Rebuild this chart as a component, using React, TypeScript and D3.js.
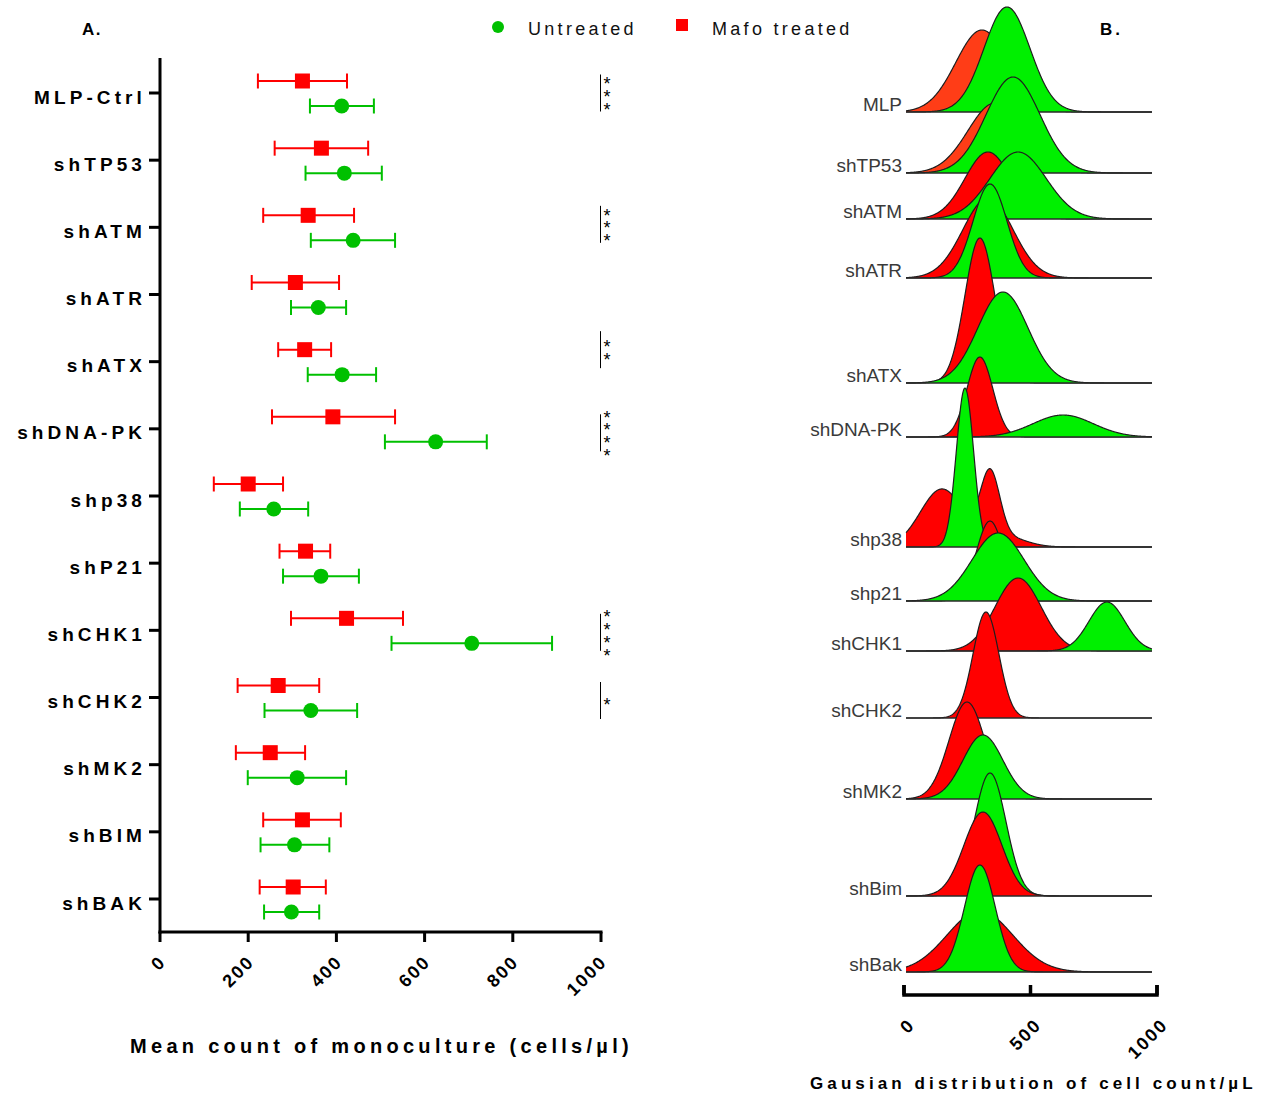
import React from "react";
import * as d3 from "d3";

// ---------- Panel A data ----------
const categoriesA = ["MLP-Ctrl", "shTP53", "shATM", "shATR", "shATX", "shDNA-PK", "shp38", "shP21", "shCHK1", "shCHK2", "shMK2", "shBIM", "shBAK"];
const untreatedMean = [412, 418, 438, 359, 413, 625, 258, 365, 707, 342, 311, 305, 298];
const untreatedLow = [340, 330, 342, 297, 335, 510, 181, 279, 525, 237, 199, 228, 236];
const untreatedHigh = [485, 503, 533, 422, 490, 741, 336, 451, 889, 447, 422, 384, 361];
const mafoMean = [323, 366, 336, 307, 328, 392, 200, 330, 423, 268, 250, 323, 302];
const mafoLow = [222, 260, 234, 208, 268, 254, 122, 271, 297, 176, 172, 234, 226];
const mafoHigh = [424, 472, 440, 406, 388, 533, 279, 386, 551, 361, 329, 410, 376];
const significance = ["***", "", "***", "", "**", "****", "", "", "****", "*", "", "", ""];
const xTicksA = [0, 200, 400, 600, 800, 1000];

// ---------- Panel B data (gaussian components: [mean, sd, relative height]) ----------
const ridgeLabels = ["MLP", "shTP53", "shATM", "shATR", "shATX", "shDNA-PK", "shp38", "shp21", "shCHK1", "shCHK2", "shMK2", "shBim", "shBak"];
const mafoRidge: number[][][] = [
  [[308, 103, 0.82]],
  [[360, 107, 0.70]],
  [[332, 91, 0.67]],
  [[332, 99, 0.80]],
  [[300, 59, 1.45]],
  [[300, 51, 0.80]],
  [[150, 85, 0.58], [340, 38, 0.66], [400, 80, 0.10]],
  [[340, 55, 0.80]],
  [[451, 91, 0.73]],
  [[324, 51, 1.06]],
  [[249, 71, 0.97]],
  [[312, 75, 0.84]],
  [[300, 130, 0.61]],
];
const untreatedRidge: number[][][] = [
  [[407, 91, 1.05]],
  [[431, 107, 0.96]],
  [[451, 111, 0.67]],
  [[340, 67, 0.94]],
  [[391, 99, 0.91]],
  [[629, 119, 0.22]],
  [[241, 34, 1.59]],
  [[372, 103, 0.68]],
  [[802, 71, 0.49]],
  [],
  [[312, 79, 0.64]],
  [[340, 63, 1.23]],
  [[300, 61, 1.07]],
];
const xTicksB = [0, 500, 1000];

// ---------- layout / style constants ----------
const ridgeRowY = [112, 173, 219, 278, 383, 437, 547, 601, 651, 718, 799, 896, 972];
const mafoOnTop = [false, false, false, false, false, false, false, false, false, false, false, true, false];
const mafoRidgeColor = ["#ff3d17", "#ff3d17", "#ff0000", "#ff0000", "#ff0000", "#ff0000", "#ff0000", "#ff0000", "#ff0000", "#ff0000", "#ff0000", "#ff0000", "#ff0000"];
const sigShift = [0, -3, -3, 0, -12, 4, 0, 0, 2, 3, 0, 0, 0];

const FONT = "'Liberation Sans', Arial, Helvetica, sans-serif";
const RED = "#ff0000";
const GREEN_A = "#00c000";
const GREEN_B = "#00f000";

function mixture(comps: number[][], v: number) {
  let s = 0;
  for (const [m, sd, h] of comps) s += h * Math.exp(-((v - m) * (v - m)) / (2 * sd * sd));
  return s;
}

export default function App() {
  // Panel A scales
  const xA = d3.scaleLinear().domain([0, 1000]).range([160, 601]);
  const yA = d3.scalePoint<string>().domain(categoriesA).range([93, 899]);

  // Panel B scales
  const xB = d3.scaleLinear().domain([0, 1000]).range([904, 1157]);
  const hB = d3.scaleLinear().domain([0, 1]).range([0, 100]);
  const grid = d3.range(8, 981, 2);

  const makeArea = (comps: number[][], base: number) =>
    d3
      .area<number>()
      .x((v) => xB(v))
      .y0(base)
      .y1((v) => base - hB(mixture(comps, v)))(grid) as string;
  const makeLine = (comps: number[][], base: number) =>
    d3
      .line<number>()
      .x((v) => xB(v))
      .y((v) => base - hB(mixture(comps, v)))(grid) as string;

  const renderCurve = (comps: number[][], base: number, fill: string, key: string) =>
    comps.length === 0 ? null : (
      <g key={key}>
        <path d={makeArea(comps, base)} fill={fill} stroke="none" />
        <path d={makeLine(comps, base)} fill="none" stroke="#1e1e1e" strokeWidth={1.2} strokeLinejoin="round" />
      </g>
    );

  return (
    <svg
      width={1263}
      height={1097}
      style={{ position: "absolute", left: 0, top: 0, background: "#fff" }}
      fontFamily={FONT}
    >
      <rect x={0} y={0} width={1263} height={1097} fill="#fff" />

      {/* Titles / legend */}
      <text x={82} y={35} fontSize={17} fontWeight="bold" letterSpacing={1.5}>A.</text>
      <text x={1100} y={35} fontSize={17} fontWeight="bold" letterSpacing={3}>B.</text>
      <circle cx={498} cy={27} r={6} fill={GREEN_A} />
      <text x={528} y={35} fontSize={18} letterSpacing={3.3} fill="#111">Untreated</text>
      <rect x={676} y={19} width={12} height={12} fill={RED} />
      <text x={712} y={35} fontSize={18} letterSpacing={3.3} fill="#111">Mafo treated</text>

      {/* ---------- Panel A ---------- */}
      <g>
        {/* y axis */}
        <line x1={160} x2={160} y1={58} y2={933.5} stroke="#000" strokeWidth={3} />
        {categoriesA.map((c) => (
          <g key={"yt" + c}>
            <line x1={149} x2={160} y1={yA(c)} y2={yA(c)} stroke="#000" strokeWidth={3} />
            <text x={146} y={(yA(c) as number) + 10.5} fontSize={19} fontWeight="bold" letterSpacing={4.1} textAnchor="end">
              {c}
            </text>
          </g>
        ))}
        {/* x axis */}
        <line x1={158.5} x2={602.5} y1={932} y2={932} stroke="#000" strokeWidth={3} />
        {xTicksA.map((t) => (
          <g key={"xt" + t}>
            <line x1={xA(t)} x2={xA(t)} y1={932} y2={942} stroke="#000" strokeWidth={3} />
            <text
              transform={`translate(${xA(t) + 7},${963}) rotate(-45)`}
              fontSize={18}
              fontWeight="bold"
              letterSpacing={2}
              textAnchor="end"
            >
              {t}
            </text>
          </g>
        ))}
        <text x={130} y={1053} fontSize={20} fontWeight="bold" letterSpacing={4.3}>
          Mean count of monoculture (cells/µl)
        </text>

        {/* error bars + markers */}
        {categoriesA.map((c, i) => {
          const yc = yA(c) as number;
          const yr = yc - 12;
          const yg = yc + 13;
          const nStars = significance[i].length;
          const sc = yc + sigShift[i];
          return (
            <g key={"eb" + c}>
              <g stroke={RED} strokeWidth={2}>
                <line x1={xA(mafoLow[i])} x2={xA(mafoHigh[i])} y1={yr} y2={yr} />
                <line x1={xA(mafoLow[i])} x2={xA(mafoLow[i])} y1={yr - 7.5} y2={yr + 7.5} />
                <line x1={xA(mafoHigh[i])} x2={xA(mafoHigh[i])} y1={yr - 7.5} y2={yr + 7.5} />
              </g>
              <rect x={xA(mafoMean[i]) - 7.5} y={yr - 7.5} width={15} height={15} fill={RED} />
              <g stroke={GREEN_A} strokeWidth={2}>
                <line x1={xA(untreatedLow[i])} x2={xA(untreatedHigh[i])} y1={yg} y2={yg} />
                <line x1={xA(untreatedLow[i])} x2={xA(untreatedLow[i])} y1={yg - 7.5} y2={yg + 7.5} />
                <line x1={xA(untreatedHigh[i])} x2={xA(untreatedHigh[i])} y1={yg - 7.5} y2={yg + 7.5} />
              </g>
              <circle cx={xA(untreatedMean[i])} cy={yg} r={7.5} fill={GREEN_A} />
              {nStars > 0 && (
                <g>
                  <line
                    x1={xA(1000) - 0.5}
                    x2={xA(1000) - 0.5}
                    y1={sc - 18.5}
                    y2={sc + 18.5}
                    stroke="#000"
                    strokeWidth={1}
                  />
                  <text fontSize={18} textAnchor="middle">
                    {significance[i].split("").map((s, k) => (
                      <tspan key={k} x={xA(1000) + 6} y={sc + (k - (nStars - 1) / 2) * 12.8 + 10}>
                        {s}
                      </tspan>
                    ))}
                  </text>
                </g>
              )}
            </g>
          );
        })}
      </g>

      {/* ---------- Panel B ---------- */}
      <g>
        {ridgeLabels.map((label, i) => {
          const base = ridgeRowY[i];
          const red = renderCurve(mafoRidge[i], base, mafoRidgeColor[i], "r");
          const green = renderCurve(untreatedRidge[i], base, GREEN_B, "g");
          return (
            <g key={"ridge" + label}>
              {mafoOnTop[i] ? [green, red] : [red, green]}
              <line x1={xB(8)} x2={xB(980)} y1={base} y2={base} stroke="#2a2a2a" strokeWidth={1.4} />
              <text x={902} y={base - 1} fontSize={19} fill="#3a3a3a" textAnchor="end">
                {label}
              </text>
            </g>
          );
        })}
        {/* bracket axis */}
        <path
          d={`M${xB(0)},${985} V${995} H${xB(1000)} V${985}`}
          fill="none"
          stroke="#000"
          strokeWidth={3.5}
        />
        {xTicksB.map((t) => (
          <g key={"bt" + t}>
            <line x1={xB(t)} x2={xB(t)} y1={985} y2={995} stroke="#000" strokeWidth={3.5} />
            <text
              transform={`translate(${xB(t) + 12},${1026}) rotate(-45)`}
              fontSize={18}
              fontWeight="bold"
              letterSpacing={2}
              textAnchor="end"
            >
              {t}
            </text>
          </g>
        ))}
        <text x={810} y={1089} fontSize={17} fontWeight="bold" letterSpacing={4.1}>
          Gausian distribution of cell count/µL
        </text>
      </g>
    </svg>
  );
}
